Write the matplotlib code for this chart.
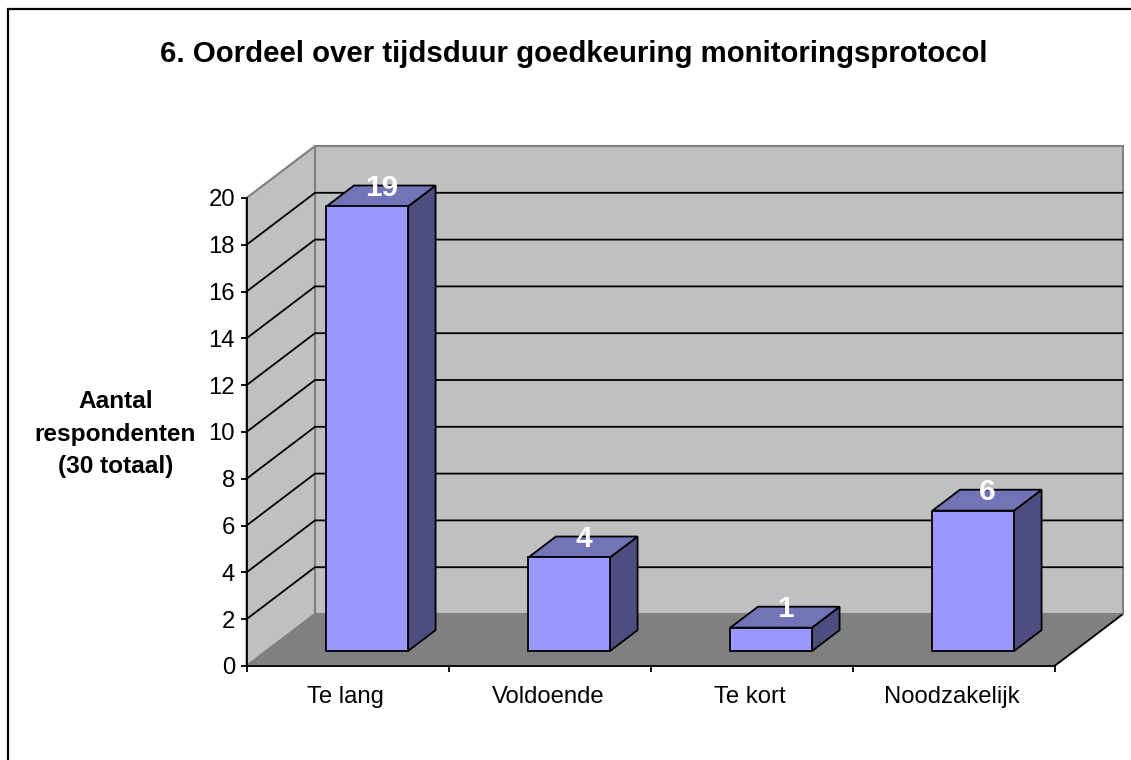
import matplotlib
matplotlib.use('Agg')
import matplotlib.pyplot as plt
from matplotlib.lines import Line2D
from matplotlib.patches import Polygon

plt.rcParams['font.family'] = ['Liberation Sans', 'DejaVu Sans']

categories = ['Te lang', 'Voldoende', 'Te kort', 'Noodzakelijk']
values = [19, 4, 1, 6]
y_ticks = [0, 2, 4, 6, 8, 10, 12, 14, 16, 18, 20]

W, H = 1131, 760
fig = plt.figure(figsize=(W / 100, H / 100), dpi=100, facecolor='white')

# front plane of the fake 3d box, in pixels
left, right, bottom, top = 246.5, 1054.5, 666.0, 198.0
ax = fig.add_axes([left / W, 1 - bottom / H, (right - left) / W, (bottom - top) / H])
ax.set_xlim(0, 4)
ax.set_ylim(0, 20)
ax.patch.set_visible(False)
for name in ['top', 'right']:
    ax.spines[name].set_visible(False)
for name in ['left', 'bottom']:
    ax.spines[name].set_linewidth(1.3)
    ax.spines[name].set_zorder(6)

# depth offset of the back wall, converted to data units
dx = 68.5 / ((right - left) / 4)
dy = 52.0 / ((bottom - top) / 20)


def proj(x, y, z=0.0):
    return (x + z * dx, y + z * dy)


def face(points, color, edge='black', lw=1.3, zorder=2):
    ax.add_patch(Polygon(points, closed=True, facecolor=color, edgecolor=edge,
                         linewidth=lw, clip_on=False, zorder=zorder, joinstyle='miter'))


wall = '#c0c0c0'
floor = '#808080'
face([proj(0, 0, 1), proj(4, 0, 1), proj(4, 20, 1), proj(0, 20, 1)], wall, edge='#808080', lw=1.5, zorder=1)
face([proj(0, 0, 0), proj(0, 0, 1), proj(0, 20, 1), proj(0, 20, 0)], wall, edge='#808080', lw=1.5, zorder=1)
face([proj(0, 0, 0), proj(4, 0, 0), proj(4, 0, 1), proj(0, 0, 1)], floor, edge='#808080', lw=1.0, zorder=1)
# black outer edge on the right side of the floor
ax.plot(*zip(proj(4, 0, 0), proj(4, 0, 0.98)), color='black', lw=1.3, clip_on=False, zorder=3)

# gridlines stop a little short of the wall edge, top one is just the grey rim
for t in y_ticks[1:-1]:
    ax.plot(*zip(proj(0, t, 0), proj(0, t, 1), proj(3.995, t, 1)), color='black', lw=1.3,
            clip_on=False, zorder=1.5)

z0, z1 = 0.288, 0.69
bar_w = 0.404
for i, (name, v) in enumerate(zip(categories, values)):
    x0 = i + 0.298
    x1 = x0 + bar_w
    face([proj(x1, 0, z0), proj(x1, 0, z1), proj(x1, v, z1), proj(x1, v, z0)], '#4d4d80', zorder=3)
    face([proj(x0, v, z0), proj(x1, v, z0), proj(x1, v, z1), proj(x0, v, z1)], '#7373b8', zorder=3)
    face([proj(x0, 0, z0), proj(x1, 0, z0), proj(x1, v, z0), proj(x0, v, z0)], '#9999ff', zorder=4)
    lx, ly = proj(i + 0.448, v, 0.65)
    ax.text(lx, ly, str(v), color='white', fontsize=21.5, fontweight='bold', ha='center',
            va='center', clip_on=False, zorder=5)

ax.set_yticks(y_ticks)
ax.set_xticks([0, 1, 2, 3, 4])
ax.set_xticklabels([])
ax.tick_params(axis='both', length=4.3, width=1.3, direction='out', labelsize=17.2, pad=4, color='black')
for i, name in enumerate(categories):
    ax.text(i + 0.492, -1.33, name, fontsize=17.2, ha='center', va='center', clip_on=False)

fig.text(115.5 / W, 1 - 434 / H, 'Aantal\nrespondenten\n(30 totaal)', fontsize=17.6, fontweight='bold',
         ha='center', va='center', linespacing=1.53)
fig.text(574 / W, 1 - 54.5 / H, '6. Oordeel over tijdsduur goedkeuring monitoringsprotocol',
         fontsize=21.2, fontweight='bold', ha='center', va='center')

# chart area border, only left and top end up inside the image
fig.add_artist(Line2D([8 / W, 8 / W, 1], [0, 1 - 9 / H, 1 - 9 / H], transform=fig.transFigure,
                      color='black', linewidth=1.6, solid_joinstyle='miter'))

fig.savefig('out.png', dpi=100)
